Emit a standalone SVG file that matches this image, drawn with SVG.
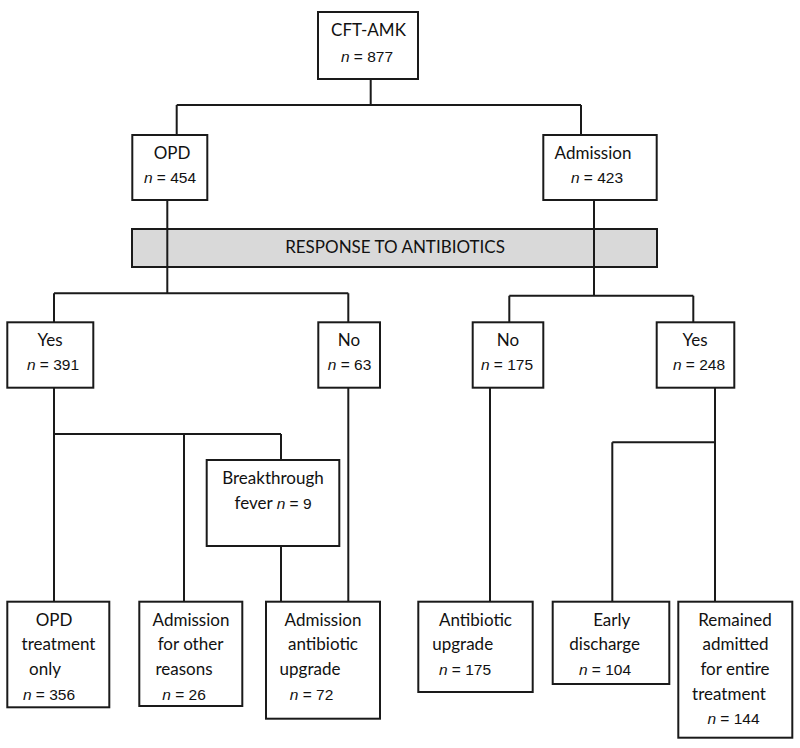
<svg xmlns="http://www.w3.org/2000/svg" width="800" height="748" viewBox="0 0 800 748">
<style>
.box{fill:#fff;stroke:#1a1a1a;stroke-width:2}
.bar{fill:#d9d9d9;stroke:#1a1a1a;stroke-width:2}
.ln{fill:none;stroke:#1a1a1a;stroke-width:2}
.t{font-family:Lato,"Open Sans","Liberation Sans",sans-serif;font-size:17px;fill:#111;text-anchor:middle}
.n{font-family:"Liberation Sans",Arial,sans-serif;font-size:15.5px;fill:#111;text-anchor:middle}
.i{font-style:italic}
</style>
<rect fill="#fff" width="800" height="748"/>
<g id="response-bar">
<rect class="bar" x="132" y="229" width="525" height="38"/>
<text class="t" x="395" y="252.5">RESPONSE TO ANTIBIOTICS</text>
</g>
<g id="connectors">
<path class="ln" d="M370.7 79V105M176.7 105H581M176.7 105V135M581 105V135"/>
<path class="ln" d="M167.3 200V293.3M54 293.3H348.3M54 293.3V322M348.3 293.3V322"/>
<path class="ln" d="M594 200V295.7M509.3 295.7H693.3M509.3 295.7V322M693.3 295.7V322"/>
<path class="ln" d="M54 388V602M54 434H281M184 434V602M281 434V460M281 546V602"/>
<path class="ln" d="M348.3 388V602"/>
<path class="ln" d="M490 388V602"/>
<path class="ln" d="M715 388V602M612.3 442.3H715M612.3 442.3V602"/>
</g>
<g id="cft-amk">
<rect class="box" x="318" y="12" width="100" height="67"/>
<text class="t" x="368.5" y="36">CFT-AMK</text>
<text class="n" x="367" y="62"><tspan class="i">n</tspan> = 877</text>
</g>
<g id="opd">
<rect class="box" x="132.3" y="135" width="75" height="65"/>
<text class="t" x="172" y="158.5">OPD</text>
<text class="n" x="170" y="183"><tspan class="i">n</tspan> = 454</text>
</g>
<g id="admission">
<rect class="box" x="543.3" y="135" width="113.4" height="65"/>
<text class="t" x="593" y="158.5">Admission</text>
<text class="n" x="597" y="183"><tspan class="i">n</tspan> = 423</text>
</g>
<g id="opd-yes">
<rect class="box" x="7.3" y="322.3" width="86" height="65.4"/>
<text class="t" x="50" y="346">Yes</text>
<text class="n" x="53" y="369.5"><tspan class="i">n</tspan> = 391</text>
</g>
<g id="opd-no">
<rect class="box" x="318.3" y="322.3" width="61.7" height="65.4"/>
<text class="t" x="349" y="346">No</text>
<text class="n" x="349.5" y="369.5"><tspan class="i">n</tspan> = 63</text>
</g>
<g id="adm-no">
<rect class="box" x="472.7" y="322.3" width="70.6" height="65.4"/>
<text class="t" x="508" y="346">No</text>
<text class="n" x="507" y="369.5"><tspan class="i">n</tspan> = 175</text>
</g>
<g id="adm-yes">
<rect class="box" x="656.7" y="322.3" width="77.6" height="65.4"/>
<text class="t" x="695" y="346">Yes</text>
<text class="n" x="699" y="369.5"><tspan class="i">n</tspan> = 248</text>
</g>
<g id="breakthrough">
<rect class="box" x="206.7" y="460" width="132.6" height="86"/>
<text class="t" x="273" y="484">Breakthrough</text>
<text class="t" x="273" y="509">fever <tspan class="n i" style="text-anchor:start">n</tspan><tspan class="n" style="text-anchor:start"> = 9</tspan></text>
</g>
<g id="opd-treatment">
<rect class="box" x="7.3" y="601.7" width="102" height="105.6"/>
<text class="t" x="54" y="626">OPD</text>
<text class="t" x="58.5" y="650">treatment</text>
<text class="t" x="45" y="675">only</text>
<text class="n" x="49" y="699.5"><tspan class="i">n</tspan> = 356</text>
</g>
<g id="admission-other">
<rect class="box" x="139.3" y="601.7" width="103" height="104.3"/>
<text class="t" x="191" y="626">Admission</text>
<text class="t" x="190.5" y="650">for other</text>
<text class="t" x="184" y="675">reasons</text>
<text class="n" x="184" y="699.5"><tspan class="i">n</tspan> = 26</text>
</g>
<g id="admission-upgrade">
<rect class="box" x="266" y="601.7" width="114" height="117"/>
<text class="t" x="323" y="626">Admission</text>
<text class="t" x="323" y="650">antibiotic</text>
<text class="t" x="310" y="675">upgrade</text>
<text class="n" x="311.5" y="699.5"><tspan class="i">n</tspan> = 72</text>
</g>
<g id="antibiotic-upgrade">
<rect class="box" x="418.3" y="601.7" width="114.4" height="90.3"/>
<text class="t" x="475.5" y="626">Antibiotic</text>
<text class="t" x="462.7" y="650">upgrade</text>
<text class="n" x="465" y="675"><tspan class="i">n</tspan> = 175</text>
</g>
<g id="early-discharge">
<rect class="box" x="552.7" y="601.7" width="116.6" height="82.3"/>
<text class="t" x="611.7" y="626">Early</text>
<text class="t" x="604.7" y="650">discharge</text>
<text class="n" x="605" y="675"><tspan class="i">n</tspan> = 104</text>
</g>
<g id="remained-admitted">
<rect class="box" x="678.3" y="601.7" width="114" height="136"/>
<text class="t" x="735" y="626">Remained</text>
<text class="t" x="735.5" y="650">admitted</text>
<text class="t" x="735" y="675">for entire</text>
<text class="t" x="729" y="699.5">treatment</text>
<text class="n" x="733.5" y="724"><tspan class="i">n</tspan> = 144</text>
</g>
</svg>
